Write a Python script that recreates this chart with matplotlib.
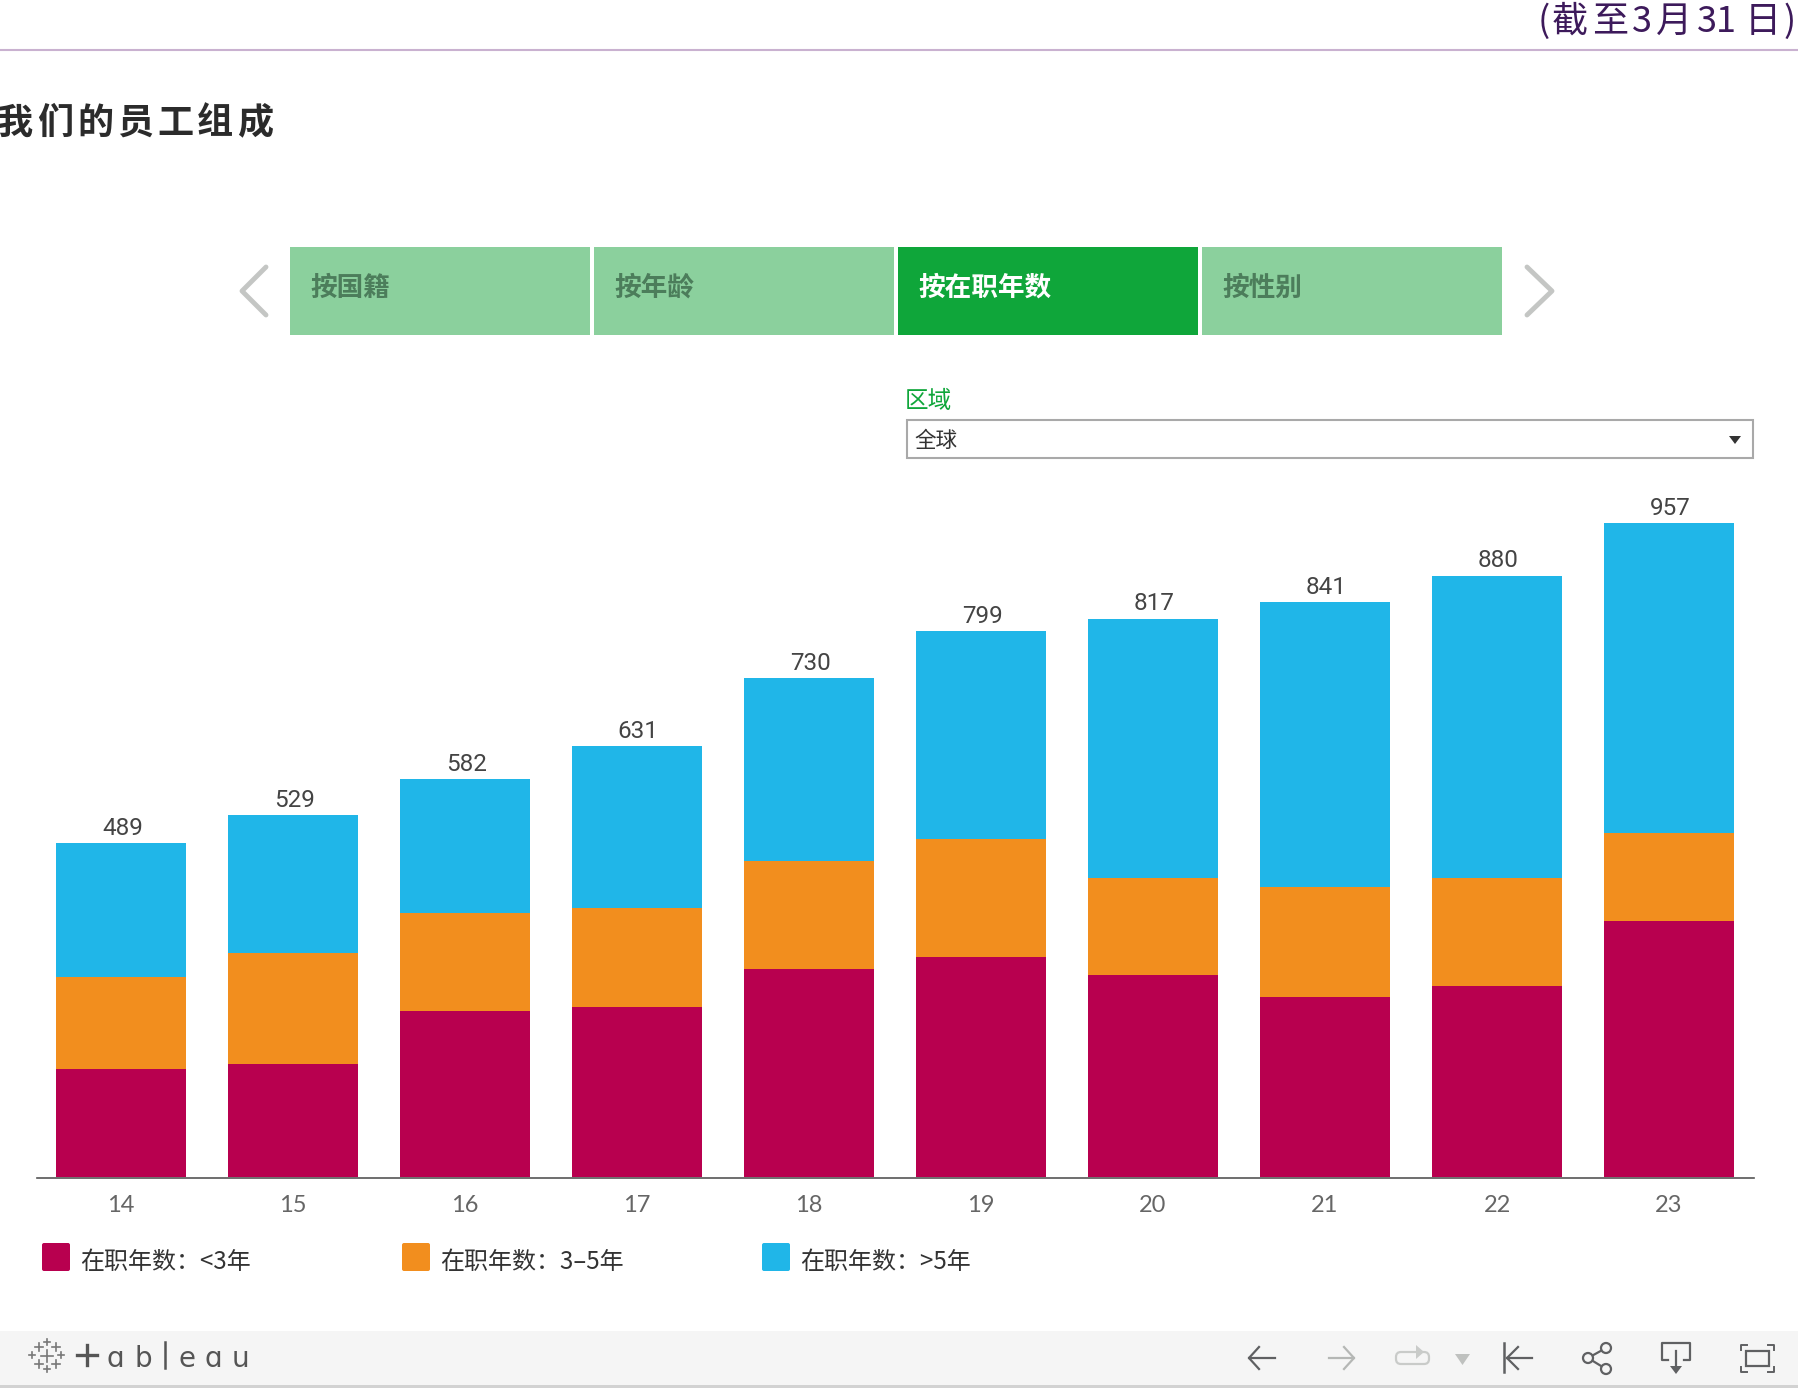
import matplotlib
matplotlib.use('Agg')
import matplotlib.pyplot as plt
from matplotlib.patches import Rectangle, FancyBboxPatch, Polygon, Circle
import numpy as np

plt.rcParams['font.family'] = ['Noto Sans CJK SC', 'DejaVu Sans']

years = ['14', '15', '16', '17', '18', '19', '20', '21', '22', '23']
under3 = [158, 165, 243, 248, 304, 322, 295, 264, 280, 374]
mid3to5 = [134, 162, 143, 145, 158, 172, 143, 161, 157, 130]
over5 = [197, 202, 196, 238, 268, 305, 379, 416, 443, 453]
totals = [489, 529, 582, 631, 730, 799, 817, 841, 880, 957]

bar_colors = ['#B8004F', '#F28E1E', '#20B6E8']
legend_labels = ['在职年数：<3年', '在职年数：3–5年', '在职年数：>5年']
legend_x = [42, 402, 762]
tab_labels = ['按国籍', '按年龄', '按在职年数', '按性别']
tab_x = [(290, 590), (594, 894), (898, 1198), (1202, 1502)]

W, H = 1798, 1388
fig = plt.figure(figsize=(W / 100, H / 100), dpi=100, facecolor='white')

# whole figure axes in pixels, for the page around the chart
bg = fig.add_axes([0, 0, 1, 1])
bg.set_xlim(0, W)
bg.set_ylim(H, 0)
bg.axis('off')

# header
bg.plot([0, W], [50, 50], color='#C9B1D0', lw=1.5)
date_chars = ['(', '截', '至', '3', '月', '3', '1', '日', ')']
date_pos = [1544, 1570, 1610, 1642, 1674, 1707, 1726, 1763, 1790]
for c, x in zip(date_chars, date_pos):
    bg.text(x, 22, c, ha='center', va='center', fontsize=26, color='#3D1A5B')
for i, c in enumerate('我们的员工组成'):
    bg.text(15 + i * 40, 123, c, ha='center', va='center', fontsize=26,
            fontweight='bold', color='#2B2B2B')

# tabs
for i, (lab, (x0, x1)) in enumerate(zip(tab_labels, tab_x)):
    active = i == 2
    bg.add_patch(Rectangle((x0, 247), x1 - x0, 88, lw=0,
                           fc='#0FA63A' if active else '#8BD09D'))
    bg.text(x0 + 20, 288, lab, ha='left', va='center', fontsize=19.2, fontweight='bold',
            color='white' if active else '#4C7D5B')
bg.plot([266, 242, 266], [267, 291, 315], color='#C4C6C4', lw=3.5, solid_capstyle='round')
bg.plot([1527, 1552, 1527], [267, 291, 315], color='#C4C6C4', lw=3.5, solid_capstyle='round')

# region filter
bg.text(905, 401, '区域', ha='left', va='center', fontsize=17, color='#0FA63A')
bg.add_patch(Rectangle((907, 420), 846, 38, fc='white', ec='#A9A9A9', lw=1.5))
bg.text(914, 441, '全球', ha='left', va='center', fontsize=15.5, color='#333333')
bg.add_patch(Polygon([[1729, 436], [1741, 436], [1735, 444]], fc='#333333', lw=0))

# legend
for x, lab, col in zip(legend_x, legend_labels, bar_colors):
    bg.add_patch(FancyBboxPatch((x, 1243), 28, 28, boxstyle='round,pad=0,rounding_size=2',
                                fc=col, lw=0))
    bg.text(x + 38, 1262, lab, ha='left', va='center', fontsize=17.3, color='#333333')

# toolbar
bg.add_patch(Rectangle((0, 1331), W, 54, fc='#F5F5F5', lw=0))
bg.add_patch(Rectangle((0, 1385), W, 3, fc='#D2D2D2', lw=0))

# tableau logo
logo_chars = ['ɑ', 'b', 'e', 'ɑ', 'u']
logo_x = [115, 143, 187, 213, 240]
for c, x in zip(logo_chars, logo_x):
    bg.text(x, 1367, c, ha='center', va='baseline', fontsize=20, color='#555555',
            family='DejaVu Sans')
bg.plot([77, 97], [1355, 1355], color='#555555', lw=2.4)
bg.plot([87, 87], [1345, 1365], color='#555555', lw=2.4)
bg.plot([165, 165], [1342, 1368], color='#555555', lw=1.8)
crosses = [(47, 1356, 6), (47, 1342, 3), (39, 1347, 4), (56, 1347, 4), (32, 1355, 3),
           (61, 1355, 3), (39, 1364, 4), (56, 1364, 4), (47, 1369, 3)]
for x, y, s in crosses:
    bg.plot([x - s, x + s], [y, y], color='#777777', lw=1.2)
    bg.plot([x, x], [y - s, y + s], color='#777777', lw=1.2)

dark = '#5F6062'
pale = '#B5B7B5'
# back, forward
bg.plot([1275, 1249], [1358, 1358], color=dark, lw=1.6)
bg.plot([1259, 1249, 1259], [1347, 1358, 1369], color=dark, lw=1.6)
bg.plot([1329, 1354], [1358, 1358], color=pale, lw=1.6)
bg.plot([1344, 1354, 1344], [1347, 1358, 1369], color=pale, lw=1.6)
# redo and its caret
bg.add_patch(FancyBboxPatch((1396, 1352), 33, 12, boxstyle='round,pad=0,rounding_size=5',
                            fc='none', ec='#C9CBC9', lw=1.6))
bg.add_patch(Polygon([[1416, 1345], [1424, 1352], [1416, 1359]], fc='#C9CBC9', lw=0))
bg.add_patch(Polygon([[1455, 1354], [1470, 1354], [1462.5, 1365]], fc='#BFC1BF', lw=0))
# reset
bg.plot([1504, 1504], [1343, 1372], color=dark, lw=1.8)
bg.plot([1532, 1507], [1358, 1358], color=dark, lw=1.6)
bg.plot([1518, 1507, 1518], [1347, 1358, 1369], color=dark, lw=1.6)
# share
bg.plot([1606, 1588, 1606], [1348, 1358, 1369], color=dark, lw=1.6)
for x, y in [(1606, 1348), (1588, 1358), (1606, 1369)]:
    bg.add_patch(Circle((x, y), 5, fc='#F5F5F5', ec=dark, lw=1.6, zorder=3))
# download
bg.plot([1668, 1662, 1662, 1690, 1690, 1684], [1360, 1360, 1343, 1343, 1360, 1360], color=dark, lw=1.6)
bg.plot([1676, 1676], [1351, 1368], color=dark, lw=1.6)
bg.add_patch(Polygon([[1670, 1366], [1682, 1366], [1676, 1374]], fc=dark, lw=0))
# fullscreen
bg.add_patch(Rectangle((1746, 1351), 23, 15, fc='none', ec=dark, lw=1.6))
for sx, sy in [(1741, 1345), (1774, 1345), (1741, 1372), (1774, 1372)]:
    dx = 6 if sx < 1750 else -6
    dy = 5 if sy < 1350 else -5
    bg.plot([sx + dx, sx, sx], [sy, sy, sy + dy], color=dark, lw=1.4)

# chart axes: x 37..1754 px, baseline at 1177 px, 1000 units = 683.5 px
y_bottom = 1177
y_top = y_bottom - 683.5
ax = fig.add_axes([37 / W, 1 - y_bottom / H, (1754 - 37) / W, (y_bottom - y_top) / H])
ax.patch.set_alpha(0)

# spine position resets the ticks, so it goes before the tick styling
for s in ['top', 'left', 'right']:
    ax.spines[s].set_visible(False)
ax.spines['bottom'].set_position(('outward', 1))
ax.spines['bottom'].set_color('#555555')
ax.spines['bottom'].set_linewidth(1.2)

x = np.arange(len(years))
low = np.array(under3)
mid = np.array(mid3to5)
high = np.array(over5)
ax.bar(x, low, width=0.756, color=bar_colors[0])
ax.bar(x, mid, width=0.756, bottom=low, color=bar_colors[1])
ax.bar(x, high, width=0.756, bottom=low + mid, color=bar_colors[2])

for i, t in enumerate(totals):
    ax.annotate(str(t), (i, t), xytext=(1, 10.5), textcoords='offset points',
                ha='center', va='center', fontsize=17.5, color='#444444',
                family=['Roboto', 'DejaVu Sans'])

ax.set_xlim(-0.488, 9.494)
ax.set_ylim(0, 1000)
ax.set_xticks(x)
ax.set_xticklabels(years, fontsize=17, color='#666666', family=['Lato', 'DejaVu Sans'])
ax.tick_params(axis='x', length=0, pad=12)
ax.set_yticks([])

fig.savefig('out.png', dpi=100)
